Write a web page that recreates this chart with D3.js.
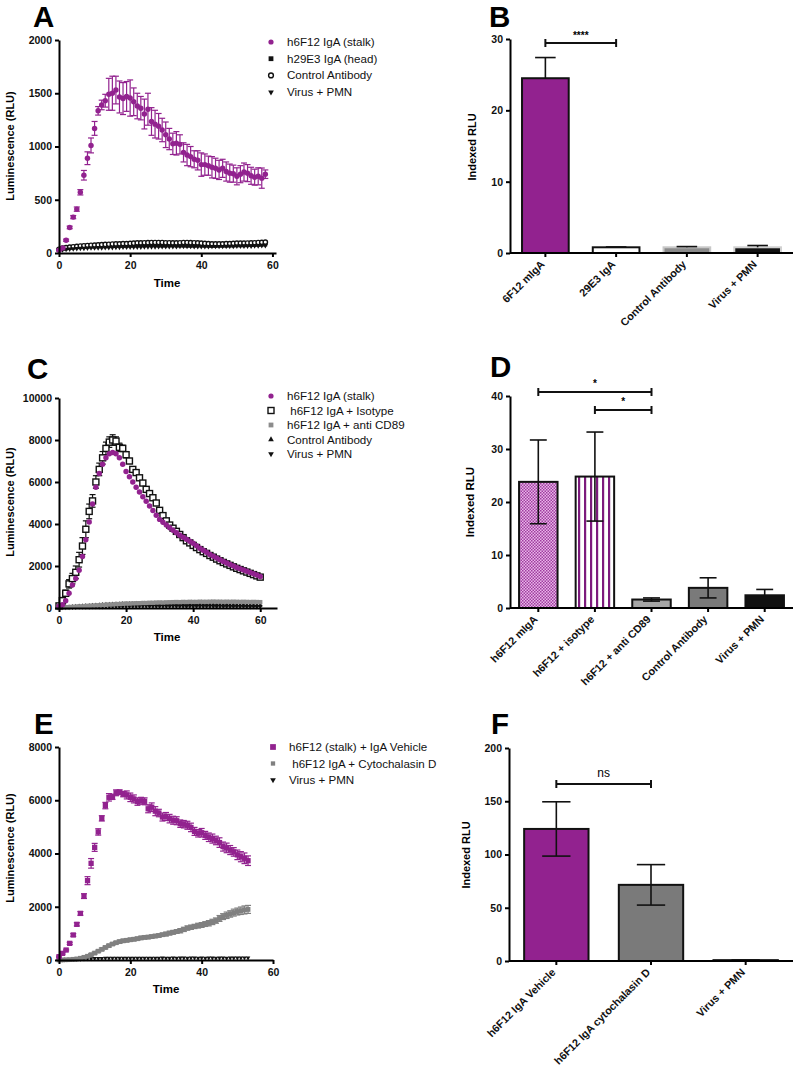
<!DOCTYPE html>
<html>
<head>
<meta charset="utf-8">
<script src="https://cdn.jsdelivr.net/npm/d3@7"></script>
<style>
body{margin:0;background:#fff;}
svg{display:block;font-family:"Liberation Sans",Arial,Helvetica,sans-serif;}
.axis path,.axis line{stroke:#000;stroke-width:2px;}
.axis text{font-weight:bold;font-size:10.5px;fill:#111;}
</style>
</head>
<body>
<script>
// ---------- DATA ----------
const PURPLE = "#92228f";
// Panel A (time 0..58, 1 min)
const timeA = d3.range(0, 59);
const aStalk = [25,47,120,240,337,412,570,730,890,1010,
 1170,1335,1390,1430,1490,1500,1530,1465,1450,1470,
 1455,1420,1380,1360,1305,1350,1235,1210,1190,1155,
 1110,1070,1025,1030,1020,945,920,905,880,870,
 830,830,820,805,795,780,795,765,750,745,
 720,740,760,750,725,712,720,703,740];
const aStalkErr = [5,8,10,12,15,20,25,45,60,70,
 65,40,45,60,150,160,130,150,150,140,
 170,130,120,110,140,150,130,130,120,110,
 120,100,100,110,90,90,100,95,80,90,
 110,100,90,100,95,90,85,90,85,80,
 80,80,85,80,80,75,80,95,40];
const aHead = [30,40,45,50,52,55,55,58,58,60,
 60,62,62,63,63,65,65,66,66,68,
 68,68,70,70,70,72,72,72,70,70,
 70,72,72,70,70,70,68,68,68,70,
 70,68,68,66,66,68,68,68,70,70,
 72,72,72,74,74,75,76,78,80];
const aControl = [35,45,50,55,58,62,65,68,70,72,
 74,76,78,80,82,84,85,86,88,88,
 90,92,95,95,96,97,98,98,98,98,
 96,96,95,95,96,98,98,97,96,95,
 92,90,88,86,85,85,86,87,88,90,
 92,92,93,94,95,96,98,100,102];
const aVirus = [20,30,35,38,40,42,44,45,46,48,
 48,50,50,52,52,52,54,54,55,55,
 56,56,57,57,58,58,58,58,60,60,
 60,60,60,60,62,62,62,62,60,60,
 60,60,60,62,62,62,62,64,64,64,
 65,65,66,66,66,68,68,70,70];
const legendA = ["h6F12 IgA (stalk)","h29E3 IgA (head)","Control Antibody","Virus + PMN"];

// Panel B
const catsB = ["6F12 mIgA","29E3 IgA","Control Antibody","Virus + PMN"];
const valsB = [24.5, 0.8, 0.8, 0.8];
const errB  = [2.9, 0.05, 0.1, 0.25];

// Panel C (time 0..60, 1 min)
const timeC = d3.range(0, 61);
const cStalk = [80,150,350,700,1100,1400,1800,2450,3250,4100,
 4950,5750,6400,6850,7150,7350,7400,7350,7150,6850,
 6500,6250,6000,5750,5520,5300,5080,4860,4640,4420,
 4220,4080,3950,3820,3700,3580,3470,3370,3270,3180,
 3080,2960,2850,2750,2650,2550,2460,2380,2300,2220,
 2140,2070,2000,1930,1870,1810,1750,1690,1630,1570,1500];
const cIso = [100,350,700,1150,1400,1700,2300,2950,3750,4600,
 5100,6000,6600,7150,7600,7900,8000,7950,7650,7600,
 7300,7000,6600,6450,6200,5950,5650,5450,5250,5000,
 4650,4400,4150,3950,3800,3650,3500,3350,3200,3100,
 2980,2880,2780,2680,2600,2500,2420,2330,2250,2170,
 2100,2030,1960,1890,1830,1770,1710,1650,1590,1530,1470];
const cIsoErr = [60,150,150,200,250,300,350,400,400,350,
 300,300,300,300,300,250,250,200,200,150,
 150,120,120,100,100,100,100,90,90,90,
 80,80,80,80,70,70,70,70,60,60,
 60,60,60,60,50,50,50,50,50,50,
 50,50,40,40,40,40,40,40,40,40,40];
const cCD89 = [0,20,35,40,55,60,75,80,95,100,
 115,120,130,145,150,165,170,185,190,200,
 210,210,220,225,230,240,240,250,250,260,
 265,260,270,275,280,285,280,290,285,295,
 290,290,300,295,295,300,305,300,300,295,
 300,295,300,295,290,295,290,285,290,285,280];
const cControl = [20,30,40,50,60,70,80,90,100,110,
 120,130,140,150,160,170,180,185,190,195,
 200,205,200,210,205,210,200,205,200,195,
 200,190,195,190,185,190,180,185,180,175,
 180,170,175,170,165,170,160,165,160,155,
 160,150,155,150,145,150,140,145,140,135,140];
const cVirus = [10,20,25,30,35,40,45,50,55,55,
 60,60,65,65,70,70,70,75,75,75,
 80,80,80,80,85,85,85,80,85,80,
 80,85,80,80,85,80,80,80,75,80,
 75,80,75,75,80,75,75,70,75,70,
 75,70,70,75,70,70,70,65,70,65,70];
const legendC = ["h6F12 IgA (stalk)"," h6F12 IgA + Isotype","h6F12 IgA + anti CD89","Control Antibody","Virus + PMN"];

// Panel D
const catsD = ["h6F12 mIgA","h6F12 + isotype","h6F12 + anti CD89","Control Antibody","Virus + PMN"];
const valsD = [23.8, 24.8, 1.6, 3.8, 2.4];
const errD  = [7.9, 8.4, 0.3, 1.9, 1.1];

// Panel E (time 0..53, 1 min)
const timeE = d3.range(0, 54);
const eVehicle = [125,250,375,625,940,1340,1750,2400,2980,3630,
 4230,4810,5320,5800,6110,6130,6280,6300,6230,6200,
 6110,6050,5950,5980,5960,5680,5740,5590,5520,5370,
 5390,5310,5250,5230,5120,5100,5060,4980,4830,4760,
 4780,4680,4610,4560,4490,4410,4260,4210,4130,4060,
 3950,3880,3820,3730];
const eVehicleErr = [20,30,30,40,50,60,70,90,150,180,
 150,120,100,120,140,100,110,90,100,150,
 160,150,140,130,130,150,160,170,140,150,
 150,160,150,150,140,140,150,160,150,140,
 160,150,160,170,160,180,170,180,170,160,
 180,190,200,180];
const eCyto = [0,5,10,15,25,40,65,100,140,200,
 260,330,400,470,540,600,650,690,720,740,
 760,780,800,830,850,860,880,900,920,950,
 975,1010,1040,1070,1100,1150,1200,1230,1260,1290,
 1315,1350,1380,1430,1480,1560,1630,1680,1730,1780,
 1820,1850,1880,1900];
const eCytoErr = [10,10,10,15,20,20,25,30,30,40,
 40,40,50,50,50,50,50,60,60,60,
 60,60,60,60,60,60,60,60,60,60,
 70,70,70,70,80,80,80,80,80,90,
 90,90,100,100,100,110,110,120,120,130,
 130,140,150,150];
const eVirus = [0,5,10,15,20,25,30,40,50,55,
 60,65,65,70,70,70,70,75,70,75,
 75,70,75,70,75,75,70,75,75,80,
 75,75,80,75,80,80,75,80,80,75,
 80,75,80,80,75,80,80,75,80,80,
 80,80,85,80];
const legendE = ["h6F12 (stalk) + IgA Vehicle"," h6F12 IgA + Cytochalasin D","Virus + PMN"];

// Panel F
const catsF = ["h6F12 IgA Vehicle","h6F12 IgA cytochalasin D","Virus + PMN"];
const valsF = [124, 71.5, 0.8];
const errF  = [25.5, 19, 0.2];

// ---------- DRAW ----------
const svg = d3.select("body").append("svg").attr("width", 794).attr("height", 1067);
const defs = svg.append("defs");
// checkered pattern
const p1 = defs.append("pattern").attr("id","checker").attr("width",3).attr("height",3).attr("patternUnits","userSpaceOnUse");
p1.append("rect").attr("width",3).attr("height",3).attr("fill","#e9b6e9");
p1.append("rect").attr("width",1.5).attr("height",1.5).attr("fill","#a03ca0");
p1.append("rect").attr("x",1.5).attr("y",1.5).attr("width",1.5).attr("height",1.5).attr("fill","#a03ca0");
// vertical stripes
const p2 = defs.append("pattern").attr("id","stripes").attr("width",6).attr("height",6).attr("patternUnits","userSpaceOnUse");
p2.append("rect").attr("width",6).attr("height",6).attr("fill","#fff");
p2.append("rect").attr("x",2).attr("width",2.2).attr("height",6).attr("fill","#7d1a7d");

function letter(t, x, y){
  svg.append("text").attr("x",x).attr("y",y).text(t)
    .style("font-size","29.5px").style("font-weight","bold");
}
function ylabel(t, x, y, size){
  svg.append("text").attr("transform",`translate(${x},${y}) rotate(-90)`)
    .attr("text-anchor","middle").text(t)
    .style("font-size",(size||11)+"px").style("font-weight","bold");
}
function xlabel(t, x, y){
  svg.append("text").attr("x",x).attr("y",y).attr("text-anchor","middle").text(t)
    .style("font-size","11.5px").style("font-weight","bold");
}

function marker(g, type, x, y, color, s){
  s = s || 1;
  if(type==="circle") g.append("circle").attr("cx",x).attr("cy",y).attr("r",2.6*s).attr("fill",color);
  else if(type==="ocircle") g.append("circle").attr("cx",x).attr("cy",y).attr("r",2.4*s).attr("fill","#fff").attr("stroke",color).attr("stroke-width",1.4);
  else if(type==="square") g.append("rect").attr("x",x-2.4*s).attr("y",y-2.4*s).attr("width",4.8*s).attr("height",4.8*s).attr("fill",color);
  else if(type==="osquare") g.append("rect").attr("x",x-3*s).attr("y",y-3*s).attr("width",6*s).attr("height",6*s).attr("fill","#fff").attr("stroke",color).attr("stroke-width",1.4);
  else if(type==="tri") g.append("path").attr("d",d3.symbol(d3.symbolTriangle, 14*s*s)()).attr("transform",`translate(${x},${y})`).attr("fill",color);
  else if(type==="itri") g.append("path").attr("d",d3.symbol(d3.symbolTriangle, 14*s*s)()).attr("transform",`translate(${x},${y}) rotate(180)`).attr("fill",color);
}

function timePanel(cfg){
  const x = d3.scaleLinear().domain(cfg.xdom).range(cfg.xr);
  const y = d3.scaleLinear().domain(cfg.ydom).range(cfg.yr);
  const g = svg.append("g");
  cfg.series.forEach(s=>{
    const gs = g.append("g");
    s.vals.forEach((v,i)=>{
      const cx = x(cfg.time[i]);
      if(s.err){
        const e = s.err[i];
        gs.append("line").attr("x1",cx).attr("x2",cx).attr("y1",y(v+e)).attr("y2",y(Math.max(0,v-e)))
          .attr("stroke",s.color).attr("stroke-width",1.2);
        [v+e, Math.max(0,v-e)].forEach(ev=>{
          gs.append("line").attr("x1",cx-3).attr("x2",cx+3).attr("y1",y(ev)).attr("y2",y(ev))
            .attr("stroke",s.color).attr("stroke-width",1.2);
        });
      }
    });
    s.vals.forEach((v,i)=>marker(gs, s.type, x(cfg.time[i]), y(v), s.color, s.size));
  });
  const ax = svg.append("g").attr("class","axis").attr("transform",`translate(0,${cfg.yr[0]})`)
    .call(d3.axisBottom(x).tickValues(cfg.xticks).tickSize(4).tickSizeOuter(0).tickFormat(d3.format("d")));
  ax.selectAll("text").attr("dy","0.9em");
  svg.append("g").attr("class","axis").attr("transform",`translate(${cfg.xr[0]},0)`)
    .call(d3.axisLeft(y).tickValues(cfg.yticks).tickSize(4).tickSizeOuter(0).tickFormat(d3.format("d")));
}

function legend(items, labels, lx, ly0, step){
  items.forEach((m,i)=>{
    const ly = ly0 + i*step;
    marker(svg, m[0], lx, ly, m[1], m[2]);
    svg.append("text").attr("x",lx+16).attr("y",ly+4).attr("xml:space","preserve").text(labels[i])
      .style("font-size","11.6px").style("fill","#111");
  });
}

function barPanel(cfg){
  const x = d3.scaleBand().domain(cfg.cats).range(cfg.xr).paddingInner(cfg.pad).paddingOuter(cfg.pad/2);
  const y = d3.scaleLinear().domain(cfg.ydom).range(cfg.yr);
  const g = svg.append("g");
  cfg.cats.forEach((c,i)=>{
    const v = cfg.vals[i];
    g.append("rect").attr("x",x(c)).attr("width",x.bandwidth()).attr("y",y(v)).attr("height",y(0)-y(v))
      .attr("fill",cfg.fills[i]).attr("stroke",cfg.strokes[i]).attr("stroke-width",2);
  });
  cfg.cats.forEach((c,i)=>{
    const v = cfg.vals[i], e = cfg.errs[i], cx = x(c)+x.bandwidth()/2;
    const cw = x.bandwidth()*0.22;
    const lo = cfg.both[i] ? v-e : v;
    g.append("line").attr("x1",cx).attr("x2",cx).attr("y1",y(v+e)).attr("y2",y(lo)).attr("stroke","#111").attr("stroke-width",1.6);
    g.append("line").attr("x1",cx-cw).attr("x2",cx+cw).attr("y1",y(v+e)).attr("y2",y(v+e)).attr("stroke","#111").attr("stroke-width",1.6);
    if(cfg.both[i]) g.append("line").attr("x1",cx-cw).attr("x2",cx+cw).attr("y1",y(lo)).attr("y2",y(lo)).attr("stroke","#111").attr("stroke-width",1.6);
  });
  const ax = svg.append("g").attr("class","axis").attr("transform",`translate(0,${cfg.yr[0]})`)
    .call(d3.axisBottom(x).tickSize(4).tickSizeOuter(0));
  ax.select(".domain").attr("d",`M${cfg.xr[0]},0H${cfg.xr[1]}`);
  ax.selectAll("text").attr("text-anchor","end").attr("dy","0").attr("y",0)
    .attr("transform","translate(0,12) rotate(-45)").style("font-size","10.8px");
  svg.append("g").attr("class","axis").attr("transform",`translate(${cfg.xr[0]},0)`)
    .call(d3.axisLeft(y).tickValues(cfg.yticks).tickSize(4).tickSizeOuter(0));
  // significance brackets
  cfg.sig.forEach(s=>{
    const x1 = x(cfg.cats[s.a])+x.bandwidth()/2, x2 = x(cfg.cats[s.b])+x.bandwidth()/2;
    g.append("line").attr("x1",x1).attr("x2",x2).attr("y1",s.y).attr("y2",s.y).attr("stroke","#111").attr("stroke-width",2);
    [x1,x2].forEach(xx=>g.append("line").attr("x1",xx).attr("x2",xx).attr("y1",s.y-4).attr("y2",s.y+4).attr("stroke","#111").attr("stroke-width",2));
    g.append("text").attr("x",(x1+x2)/2).attr("y",s.y-s.dy).attr("text-anchor","middle").text(s.t)
      .style("font-size",s.fs+"px").style("font-weight",s.fw||"bold");
  });
}

// Panel A
letter("A", 33, 27);
timePanel({
  time: timeA, xdom:[0,61], xr:[59,276], ydom:[0,2000], yr:[253,40],
  xticks:[0,20,40,60], yticks:[0,500,1000,1500,2000],
  series:[
    {vals:aHead, type:"square", color:"#111", size:0.8},
    {vals:aControl, type:"ocircle", color:"#111", size:0.9},
    {vals:aVirus, type:"itri", color:"#111", size:0.9},
    {vals:aStalk, err:aStalkErr, type:"circle", color:PURPLE, size:1.05}
  ]
});
legend([["circle",PURPLE],["square","#111"],["ocircle","#111"],["itri","#111"]], legendA, 271, 42, 16.7);
ylabel("Luminescence (RLU)", 14, 146);
xlabel("Time", 167, 287);

// Panel B
letter("B", 489, 27);
barPanel({
  cats:catsB, vals:valsB, errs:errB, both:[false,false,false,false],
  xr:[510,793], pad:0.34, ydom:[0,30], yr:[253,39], yticks:[0,10,20,30],
  fills:[PURPLE,"#fff","#8a8a8a","#111"], strokes:["#111","#111","#c8c8c8","#d0d0d0"],
  sig:[{a:0,b:1,y:43,t:"****",dy:4,fs:10}]
});
ylabel("Indexed RLU", 476, 147, 11);

// Panel C
letter("C", 27, 379);
timePanel({time:timeC, xdom:[0,65], xr:[59,277], ydom:[0,10000], yr:[608,398],
  xticks:[0,20,40,60], yticks:[0,2000,4000,6000,8000,10000],
  series:[
    {vals:cVirus, type:"itri", color:"#111", size:0.85},
    {vals:cControl, type:"tri", color:"#111", size:0.85},
    {vals:cCD89, type:"square", color:"#8c8c8c", size:0.9},
    {vals:cIso, err:cIsoErr, type:"osquare", color:"#111", size:1.0},
    {vals:cStalk, type:"circle", color:PURPLE, size:1.05}
  ]});
legend([["circle",PURPLE],["osquare","#111"],["square","#8c8c8c"],["tri","#111"],["itri","#111"]], legendC, 271, 396, 14.5);
ylabel("Luminescence (RLU)", 14, 502);
xlabel("Time", 167, 641);

// Panel D
letter("D", 490, 377);
barPanel({
  cats:catsD, vals:valsD, errs:errD, both:[true,true,true,true,false],
  xr:[510,793], pad:0.32, ydom:[0,40], yr:[608,396], yticks:[0,10,20,30,40],
  fills:["url(#checker)","url(#stripes)","#a6a6a6","#7a7a7a","#111"], strokes:["#111","#111","#111","#111","#111"],
  sig:[{a:0,b:2,y:392,t:"*",dy:5,fs:10},{a:1,b:2,y:410,t:"*",dy:5,fs:10}]
});
ylabel("Indexed RLU", 474, 502, 11.5);

// Panel E
letter("E", 34, 734);
timePanel({time:timeE, xdom:[0,60], xr:[59,273], ydom:[0,8000], yr:[960,747],
  xticks:[0,20,40,60], yticks:[0,2000,4000,6000,8000],
  series:[
    {vals:eVirus, type:"itri", color:"#111", size:0.8},
    {vals:eCyto, err:eCytoErr, type:"square", color:"#808080", size:1.0},
    {vals:eVehicle, err:eVehicleErr, type:"square", color:PURPLE, size:1.1}
  ]});
legend([["square",PURPLE,1.2],["square","#808080",0.9],["itri","#111",1]], legendE, 273, 747, 16.5);
ylabel("Luminescence (RLU)", 14, 848);
xlabel("Time", 166, 993);

// Panel F
letter("F", 491, 734);
barPanel({
  cats:catsF, vals:valsF, errs:errF, both:[true,true,false],
  xr:[509,793], pad:0.32, ydom:[0,200], yr:[961,748], yticks:[0,50,100,150,200],
  fills:[PURPLE,"#7a7a7a","#111"], strokes:["#111","#111","#111"],
  sig:[{a:0,b:1,y:784,t:"ns",dy:7,fs:12,fw:"normal"}]
});
ylabel("Indexed RLU", 470, 855, 11);
</script>
</body>
</html>
